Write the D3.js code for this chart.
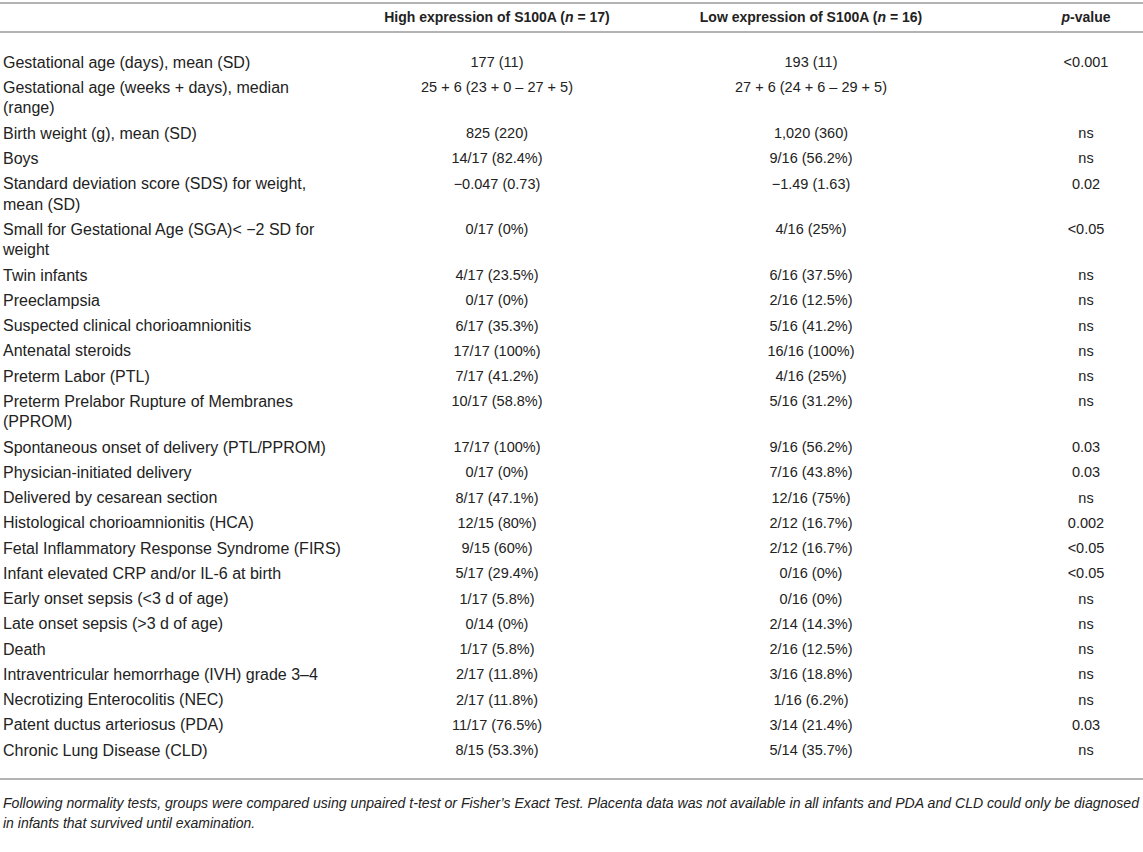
<!DOCTYPE html>
<html>
<head>
<meta charset="utf-8">
<script src="https://cdn.jsdelivr.net/npm/d3@7"></script>
<style>
  html, body { margin: 0; padding: 0; background: #fff; }
  svg { display: block; font-family: "Liberation Sans", Arial, sans-serif; }
</style>
</head>
<body>
<div id="chart"></div>
<script>
// ---- data ----
const characteristics = [
  ["Gestational age (days), mean (SD)"],
  ["Gestational age (weeks + days), median", "(range)"],
  ["Birth weight (g), mean (SD)"],
  ["Boys"],
  ["Standard deviation score (SDS) for weight,", "mean (SD)"],
  ["Small for Gestational Age (SGA)< \u22122 SD for", "weight"],
  ["Twin infants"],
  ["Preeclampsia"],
  ["Suspected clinical chorioamnionitis"],
  ["Antenatal steroids"],
  ["Preterm Labor (PTL)"],
  ["Preterm Prelabor Rupture of Membranes", "(PPROM)"],
  ["Spontaneous onset of delivery (PTL/PPROM)"],
  ["Physician-initiated delivery"],
  ["Delivered by cesarean section"],
  ["Histological chorioamnionitis (HCA)"],
  ["Fetal Inflammatory Response Syndrome (FIRS)"],
  ["Infant elevated CRP and/or IL-6 at birth"],
  ["Early onset sepsis (<3 d of age)"],
  ["Late onset sepsis (>3 d of age)"],
  ["Death"],
  ["Intraventricular hemorrhage (IVH) grade 3\u20134"],
  ["Necrotizing Enterocolitis (NEC)"],
  ["Patent ductus arteriosus (PDA)"],
  ["Chronic Lung Disease (CLD)"]
];
const highExpression = ["177 (11)", "25 + 6 (23 + 0 \u2013 27 + 5)", "825 (220)", "14/17 (82.4%)",
  "\u22120.047 (0.73)", "0/17 (0%)", "4/17 (23.5%)", "0/17 (0%)", "6/17 (35.3%)", "17/17 (100%)",
  "7/17 (41.2%)", "10/17 (58.8%)", "17/17 (100%)", "0/17 (0%)", "8/17 (47.1%)", "12/15 (80%)",
  "9/15 (60%)", "5/17 (29.4%)", "1/17 (5.8%)", "0/14 (0%)", "1/17 (5.8%)", "2/17 (11.8%)",
  "2/17 (11.8%)", "11/17 (76.5%)", "8/15 (53.3%)"];
const lowExpression = ["193 (11)", "27 + 6 (24 + 6 \u2013 29 + 5)", "1,020 (360)", "9/16 (56.2%)",
  "\u22121.49 (1.63)", "4/16 (25%)", "6/16 (37.5%)", "2/16 (12.5%)", "5/16 (41.2%)", "16/16 (100%)",
  "4/16 (25%)", "5/16 (31.2%)", "9/16 (56.2%)", "7/16 (43.8%)", "12/16 (75%)", "2/12 (16.7%)",
  "2/12 (16.7%)", "0/16 (0%)", "0/16 (0%)", "2/14 (14.3%)", "2/16 (12.5%)", "3/16 (18.8%)",
  "1/16 (6.2%)", "3/14 (21.4%)", "5/14 (35.7%)"];
const pValues = ["<0.001", "", "ns", "ns", "0.02", "<0.05", "ns", "ns", "ns", "ns", "ns", "ns",
  "0.03", "0.03", "ns", "0.002", "<0.05", "<0.05", "ns", "ns", "ns", "ns", "ns", "0.03", "ns"];
// header parts: [text, italic]
const headers = [
  [],
  [["High expression of S100A (", false], ["n", true], [" = 17)", false]],
  [["Low expression of S100A (", false], ["n", true], [" = 16)", false]],
  [["p", true], ["-value", false]]
];
const footnote = [
  "Following normality tests, groups were compared using unpaired t-test or Fisher\u2019s Exact Test. Placenta data was not available in all infants and PDA and CLD could only be diagnosed",
  "in infants that survived until examination."
];

// ---- layout ----
const W = 1143, H = 852;
const columns = ["label", "high", "low", "p"];
const x = d3.scaleOrdinal().domain(columns).range([3, 497, 811, 1086]);
const anchor = d3.scaleOrdinal().domain(columns).range(["start", "middle", "middle", "middle"]);

const rowPitch = 25.25, lineGap = 20.5;
const extra = characteristics.map(l => l.length - 1);
const extraBefore = [0, ...d3.cumsum(extra)];
const yRow = d3.scaleLinear().domain([0, 1]).range([62, 62 + rowPitch]);
const yLine = d3.scaleLinear().domain([0, 1]).range([0, lineGap]);
const rowY = i => yRow(i) + yLine(extraBefore[i]);

const svg = d3.select("#chart").append("svg").attr("width", W).attr("height", H);
svg.append("rect").attr("width", W).attr("height", H).attr("fill", "#fff");

const ruleColor = "#b3b3b3";
const labelSize = 16, valueSize = 14.5, headerSize = 14;
const textColor = "#222";

// rules
const lastY = rowY(characteristics.length - 1);
const rules = [3, 32, lastY + 29];
svg.selectAll("line.rule").data(rules).join("line")
  .attr("class", "rule")
  .attr("x1", 0).attr("x2", W)
  .attr("y1", d => d).attr("y2", d => d)
  .attr("stroke", ruleColor).attr("stroke-width", 2);

// header
const headerG = svg.append("g");
headers.forEach((parts, ci) => {
  if (!parts.length) return;
  const t = headerG.append("text")
    .attr("x", x(columns[ci])).attr("y", 17)
    .attr("dy", "0.35em")
    .attr("text-anchor", anchor(columns[ci]))
    .attr("font-size", headerSize).attr("font-weight", "bold").attr("fill", textColor);
  t.selectAll("tspan").data(parts).join("tspan")
    .attr("font-style", d => d[1] ? "italic" : "normal")
    .text(d => d[0]);
});

// body
const rows = svg.append("g").selectAll("g.row")
  .data(characteristics.map((lab, i) => ({
    i, label: lab, high: highExpression[i], low: lowExpression[i], p: pValues[i]
  })))
  .join("g").attr("class", "row")
  .attr("transform", d => `translate(0,${rowY(d.i)})`);

rows.append("text")
  .attr("x", x("label")).attr("text-anchor", anchor("label"))
  .attr("font-size", labelSize).attr("fill", textColor)
  .selectAll("tspan").data(d => d.label).join("tspan")
  .attr("x", x("label"))
  .attr("y", (d, j) => yLine(j))
  .attr("dy", "0.35em")
  .text(d => d);

["high", "low", "p"].forEach(c => {
  rows.append("text")
    .attr("x", x(c)).attr("dy", "0.35em")
    .attr("text-anchor", anchor(c))
    .attr("font-size", valueSize).attr("fill", textColor)
    .text(d => d[c]);
});

// footnote
const footY = lastY + 29;
svg.append("g").selectAll("text").data(footnote).join("text")
  .attr("x", 3)
  .attr("y", (d, j) => footY + 24 + j * 20)
  .attr("dy", "0.35em")
  .attr("font-size", 14).attr("font-style", "italic").attr("fill", textColor)
  .attr("textLength", (d, j) => j === 0 ? 1136 : null)
  .attr("lengthAdjust", "spacingAndGlyphs")
  .text(d => d);
</script>
</body>
</html>
